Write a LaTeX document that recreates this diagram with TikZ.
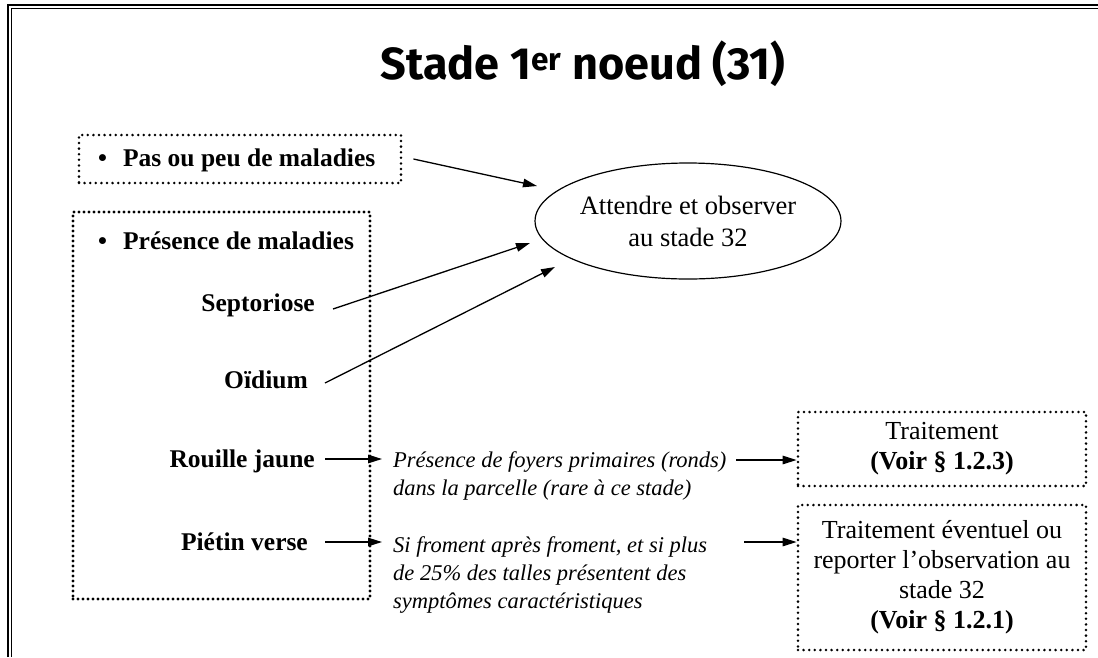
\documentclass[tikz,border=0pt]{standalone}
\usepackage{fontspec}
\setmainfont{Liberation Serif}
\newfontfamily\titlefont{Fira Sans}
\usetikzlibrary{arrows.meta,shapes.geometric}
\begin{document}
\begin{tikzpicture}[x=1pt,y=-1pt,
  dotbox/.style={draw, line width=2.8pt, dash pattern=on 0pt off 5.6pt, line cap=round},
  dotboxb/.style={draw, line width=3.2pt, dash pattern=on 0pt off 5pt, line cap=round},
  arr/.style={-{Triangle[length=14pt,width=8.5pt]}, line width=1.3pt},
  bl/.style={font=\fontsize{25.5}{30}\selectfont\bfseries, inner sep=0pt},
  itx/.style={font=\fontsize{22.5}{28}\selectfont\itshape, align=left, inner sep=0pt},
  rg/.style={font=\fontsize{26}{30}\selectfont, align=center, inner sep=0pt}]
\useasboundingbox (0,0) rectangle (1098,657);
% frame
\draw[line width=2.6pt] (8,657) -- (8,5) -- (1098,5);
\draw[line width=0.9pt] (11.5,657) -- (11.5,8.6) -- (1098,8.6);
% title
\node[font=\titlefont\fontsize{45}{50}\selectfont\bfseries] (title) at (583,64) {Stade 1\textsuperscript{er} noeud (31)};
% left boxes
\node[dotbox, minimum width=322pt, minimum height=48pt, inner sep=0pt] (pasbox) at (240,159) {};
\node[dotboxb, minimum width=297pt, minimum height=387pt, inner sep=0pt] (presbox) at (221.5,405.5) {};
\node[bl, anchor=west] (pas) at (98,160) {\textbullet\hspace{16pt}Pas ou peu de maladies};
\node[bl, anchor=west] (pres) at (98,241) {\textbullet\hspace{16pt}Présence de maladies};
\node[bl, anchor=east] (sept) at (315,305) {Septoriose};
\node[bl, anchor=east] (oid) at (308,380) {Oïdium};
\node[bl, anchor=east] (rou) at (315,461) {Rouille jaune};
\node[bl, anchor=east] (pie) at (308,542) {Piétin verse};
% ellipse
\node[draw, ellipse, line width=1.2pt, minimum width=280pt, minimum height=116pt, inner sep=0pt, align=center, font=\fontsize{26.5}{32}\selectfont] (att) at (688,221) {Attendre et observer\\au stade 32};
% italic notes
\node[itx, anchor=west] (it1) at (393,476) {Présence de foyers primaires (ronds)\\dans la parcelle (rare à ce stade)};
\node[itx, anchor=west] (it2) at (393,575) {Si froment après froment, et si plus\\de 25\% des talles présentent des\\symptômes caractéristiques};
% right boxes
\node[dotbox, minimum width=288pt, minimum height=74pt, rg] (tb1) at (942,449) {Traitement\\\textbf{(Voir § 1.2.3)}};
\node[dotbox, minimum width=288pt, minimum height=145pt, rg] (tb2) at (942,577.5) {Traitement éventuel ou\\reporter l’observation au\\stade 32\\\textbf{(Voir § 1.2.1)}};
% arrow ends
\coordinate (e1) at (537,186);
\coordinate (e2) at (530,243);
\coordinate (e3) at (555,267);
\coordinate (r1) at (382,459);
\coordinate (p1) at (382,542);
\coordinate (s3) at (736,460);
\coordinate (s4) at (744,542);
% connectors
\draw[arr] ([xshift=11pt]pasbox.east) -- (e1);
\draw[arr] ([xshift=18pt,yshift=-4pt]sept.east) -- (e2);
\draw[arr] ([xshift=17pt,yshift=-3pt]oid.east) -- (e3);
\draw[arr] ([xshift=10pt]rou.east |- r1) -- (r1);
\draw[arr] ([xshift=17pt]pie.east |- p1) -- (p1);
\draw[arr] (s3) -- (s3 -| tb1.west);
\draw[arr] (s4) -- (s4 -| tb2.west);
\end{tikzpicture}
\end{document}
